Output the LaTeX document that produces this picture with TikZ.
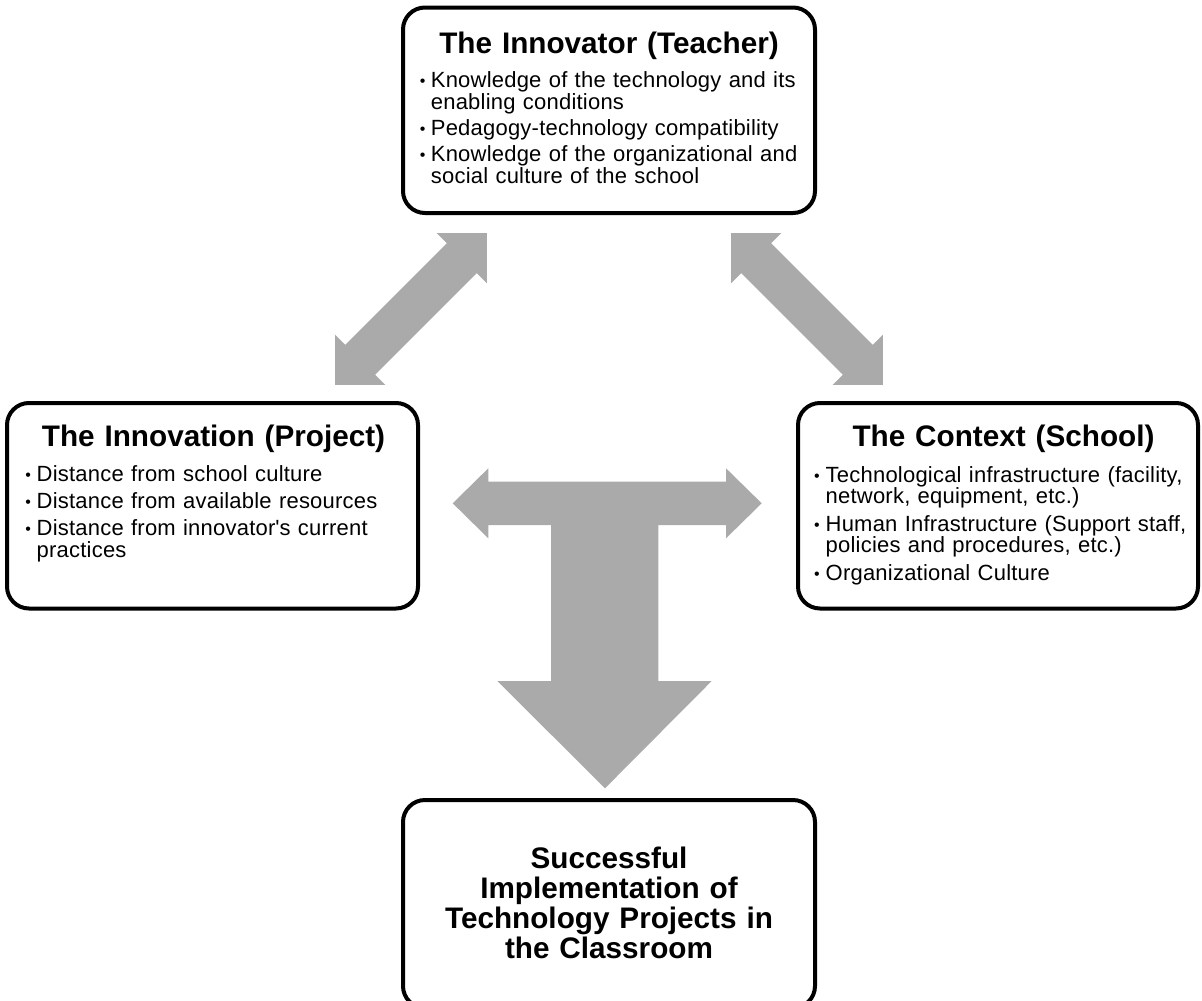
\documentclass[tikz,border=0pt]{standalone}
\usepackage{fontspec}
\setmainfont{Liberation Sans}
\newfontfamily\itemfont[LetterSpace=1.0]{Liberation Sans}
\definecolor{blockgray}{RGB}{170,170,170}
\tikzset{
  panel/.style={draw=black, line width=4pt, rounded corners=22pt, inner sep=0pt},
  heading/.style={font=\fontsize{29.7}{30}\selectfont\bfseries, anchor=base, inner sep=0pt, text width=410pt, align=center},
  itemtext/.style={font=\itemfont\fontsize{22}{21.7}\selectfont, anchor=base west, inner sep=0pt, text width=400pt, align=left},
  bulletmark/.style={font=\fontsize{16}{16}\selectfont, anchor=base, inner sep=0pt, yshift=1pt},
  blockarrow/.style={fill=blockgray, draw=none},
}
\begin{document}
\begin{tikzpicture}[x=1pt, y=-1pt]
  \useasboundingbox (0,0) rectangle (1202,1001);
  \clip (0,0) rectangle (1202,1001);

  % ---- the four panels ----
  \node[panel, minimum width=412pt, minimum height=205.5pt] (innovator) at (609,110.25) {};
  \node[panel, minimum width=411pt, minimum height=205.5pt] (innovation) at (212.5,505.75) {};
  \node[panel, minimum width=400pt, minimum height=205.5pt] (context) at (998,505.75) {};
  \node[panel, minimum width=412pt, minimum height=208pt] (success) at (609,904) {};

  % ---- The Innovator (Teacher) ----
  \node[heading] (innovatorTitle) at (609,53.3) {The Innovator (Teacher)};
  \node[bulletmark] (innovatorB1) at (422.7,87.3) {•};
  \node[itemtext] (innovatorI1) at (430.7,87.3) {Knowledge of the technology and its\\enabling conditions};
  \node[bulletmark] (innovatorB2) at (422.7,135) {•};
  \node[itemtext] (innovatorI2) at (430.7,135) {Pedagogy-technology compatibility};
  \node[bulletmark] (innovatorB3) at (422.7,161.5) {•};
  \node[itemtext] (innovatorI3) at (430.7,161.5) {Knowledge of the organizational and\\social culture of the school};

  % ---- The Innovation (Project) ----
  \node[heading] (innovationTitle) at (213.5,446.7) {The Innovation (Project)};
  \node[bulletmark] (innovationB1) at (28.3,481.5) {•};
  \node[itemtext] (innovationI1) at (36.5,481.5) {Distance from school culture};
  \node[bulletmark] (innovationB2) at (28.3,508.5) {•};
  \node[itemtext] (innovationI2) at (36.5,508.5) {Distance from available resources};
  \node[bulletmark] (innovationB3) at (28.3,535.5) {•};
  \node[itemtext] (innovationI3) at (36.5,535.5) {Distance from innovator\textquotesingle s current\\practices};

  % ---- The Context (School) ----
  \node[heading] (contextTitle) at (1003.5,446.7) {The Context (School)};
  \node[bulletmark] (contextB1) at (817,482) {•};
  \node[itemtext] (contextI1) at (825.5,482) {Technological infrastructure (facility,\\network, equipment, etc.)};
  \node[bulletmark] (contextB2) at (817,531) {•};
  \node[itemtext] (contextI2) at (825.5,531) {Human Infrastructure (Support staff,\\policies and procedures, etc.)};
  \node[bulletmark] (contextB3) at (817,580) {•};
  \node[itemtext] (contextI3) at (825.5,580) {Organizational Culture};

  % ---- Outcome ----
  \node[heading] (successText) at (609,868.3) {Successful\\Implementation of\\Technology Projects in\\the Classroom};

  % ---- diagonal two-headed block arrows ----
  \begin{scope}[shift={(411,309)}, rotate=45]
    \fill[blockarrow] (-107.3,0) -- (-71.8,35.5) -- (-71.8,21.2) -- (71.8,21.2) -- (71.8,35.5)
      -- (107.3,0) -- (71.8,-35.5) -- (71.8,-21.2) -- (-71.8,-21.2) -- (-71.8,-35.5) -- cycle;
  \end{scope}
  \begin{scope}[shift={(807,309)}, rotate=-45]
    \fill[blockarrow] (-107.3,0) -- (-71.8,35.5) -- (-71.8,21.2) -- (71.8,21.2) -- (71.8,35.5)
      -- (107.3,0) -- (71.8,-35.5) -- (71.8,-21.2) -- (-71.8,-21.2) -- (-71.8,-35.5) -- cycle;
  \end{scope}

  % ---- T-shaped block arrow: sideways to both panels, down to the outcome ----
  \fill[blockarrow] (452.7,503.3) -- (488.3,468.3) -- (488.3,481.7) -- (726,481.7) -- (726,468.3)
    -- (761.7,503.3) -- (726,538.3) -- (726,525) -- (658.3,525) -- (658.3,681) -- (711.7,681)
    -- (605,788.3) -- (497.3,681) -- (551,681) -- (551,525) -- (488.3,525) -- (488.3,538.3) -- cycle;
\end{tikzpicture}
\end{document}
